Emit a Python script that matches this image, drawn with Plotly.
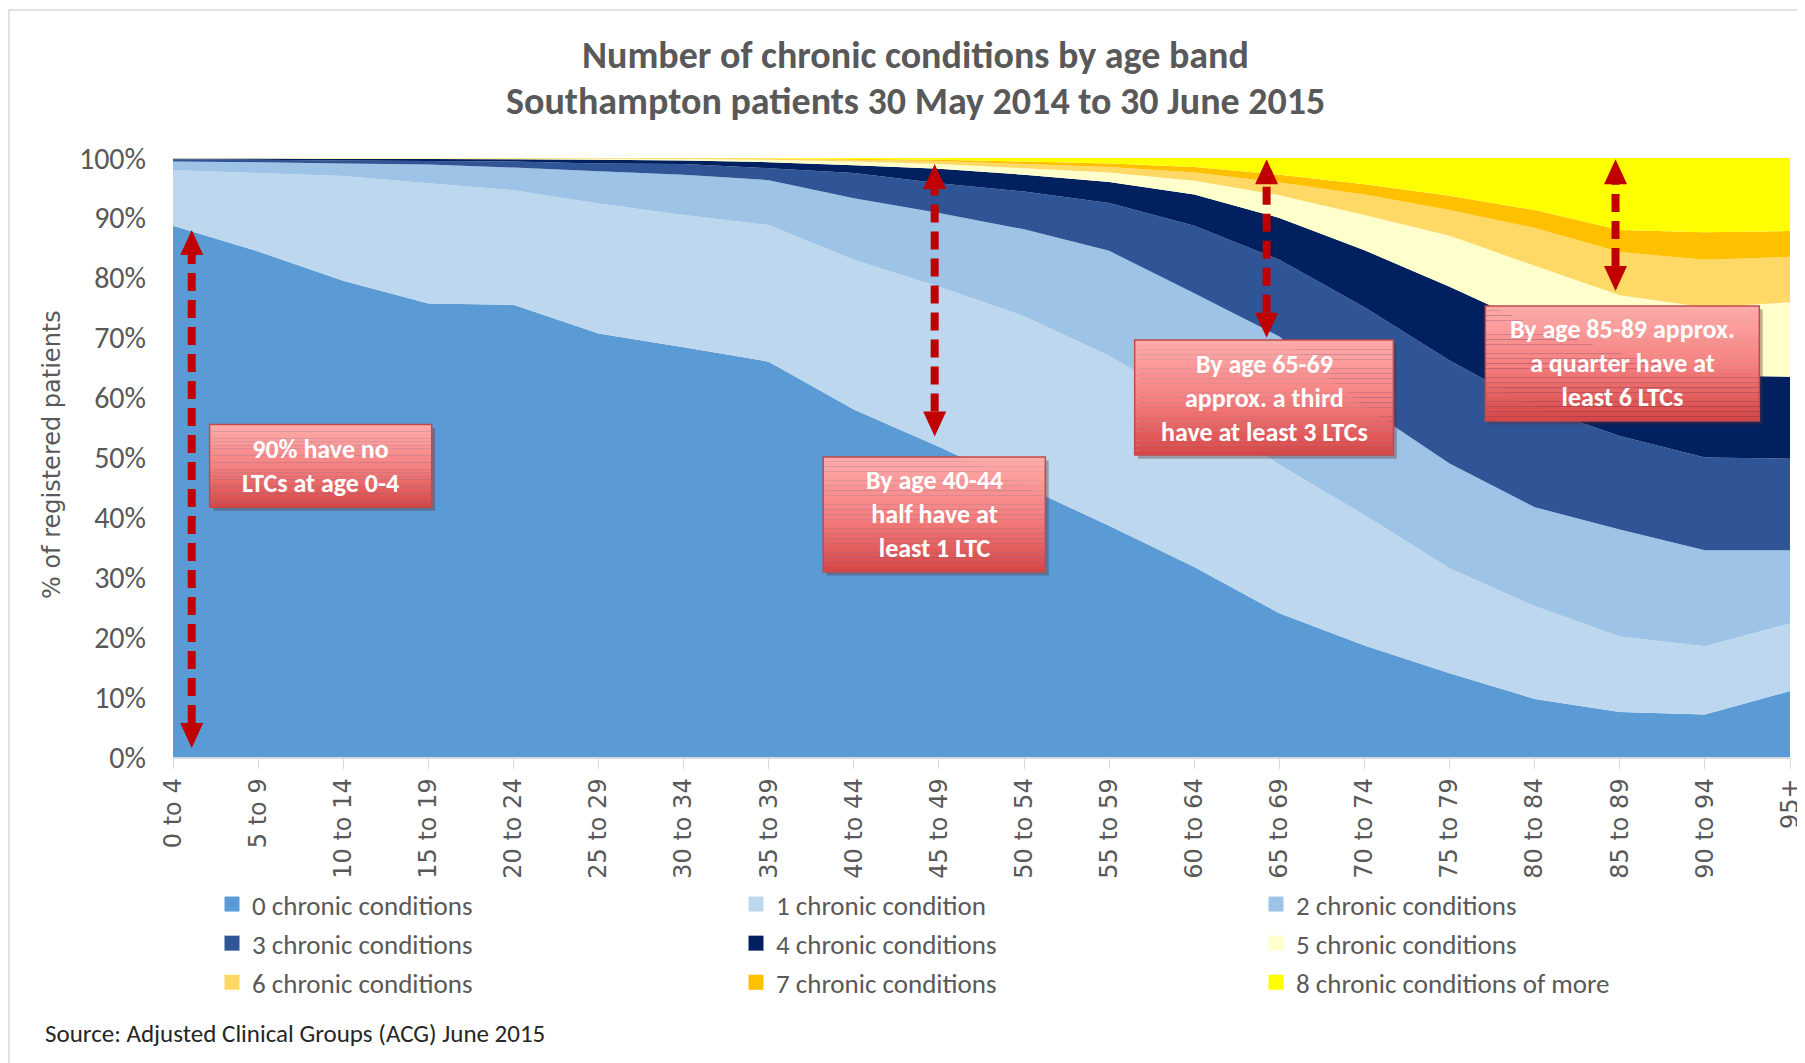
import plotly.graph_objects as go

# ---------------- data ----------------
age_bands = ["0 to 4", "5 to 9", "10 to 14", "15 to 19", "20 to 24", "25 to 29",
             "30 to 34", "35 to 39", "40 to 44", "45 to 49", "50 to 54", "55 to 59",
             "60 to 64", "65 to 69", "70 to 74", "75 to 79", "80 to 84", "85 to 89",
             "90 to 94", "95+"]

series_names = ["0 chronic conditions", "1 chronic condition", "2 chronic conditions",
                "3 chronic conditions", "4 chronic conditions", "5 chronic conditions",
                "6 chronic conditions", "7 chronic conditions", "8 chronic conditions of more"]

cc0 = [88.7, 84.4, 79.5, 75.7, 75.5, 70.7, 68.4, 66.0, 58.0, 51.8, 45.2, 38.6, 31.7, 24.0, 18.6, 14.0, 9.7, 7.5, 7.1, 11.0]
cc1 = [9.3, 13.1, 17.5, 20.1, 19.1, 21.7, 22.1, 22.8, 25.0, 26.7, 28.4, 28.4, 27.0, 24.8, 21.8, 17.5, 15.5, 12.6, 11.4, 11.3]
cc2 = [1.4, 1.8, 2.1, 3.1, 3.8, 5.4, 6.7, 7.5, 10.3, 12.3, 14.5, 17.5, 18.7, 21.4, 18.1, 17.5, 16.5, 17.9, 16.0, 12.2]
cc3 = [0.4, 0.4, 0.5, 0.6, 1.0, 1.3, 1.8, 2.0, 4.2, 5.0, 6.3, 8.0, 11.3, 12.8, 16.6, 17.2, 16.8, 15.6, 15.5, 15.3]
cc4 = [0.1, 0.2, 0.25, 0.35, 0.4, 0.6, 0.6, 1.0, 1.3, 2.4, 2.8, 3.5, 5.2, 7.0, 9.5, 12.3, 13.5, 13.9, 13.7, 13.7]
cc5 = [0.1, 0.1, 0.1, 0.1, 0.1, 0.2, 0.25, 0.4, 0.6, 0.8, 1.1, 1.6, 2.3, 3.8, 5.9, 8.5, 10.0, 9.6, 11.4, 12.4]
cc6 = [0.0, 0.0, 0.05, 0.05, 0.05, 0.05, 0.1, 0.2, 0.3, 0.5, 0.7, 0.9, 1.4, 2.1, 3.4, 4.3, 6.3, 7.2, 7.9, 7.6]
cc7 = [0.0, 0.0, 0.0, 0.0, 0.05, 0.05, 0.05, 0.05, 0.15, 0.2, 0.4, 0.6, 0.9, 1.3, 1.7, 2.4, 3.0, 3.7, 4.6, 4.3]
cc8 = [0.0, 0.0, 0.0, 0.0, 0.0, 0.0, 0.0, 0.05, 0.15, 0.3, 0.6, 0.9, 1.5, 2.8, 4.4, 6.3, 8.7, 12.0, 12.4, 12.2]

series_values = [cc0, cc1, cc2, cc3, cc4, cc5, cc6, cc7, cc8]

y_ticks = [0, 10, 20, 30, 40, 50, 60, 70, 80, 90, 100]
y_tick_labels = ["0%", "10%", "20%", "30%", "40%", "50%", "60%", "70%", "80%", "90%", "100%"]

# annotation boxes: (x0, x1, y_top, y_bottom, text)  in category-index / percent units
callouts = [
    (0.43, 3.04, 55.5, 41.7, "90% have no<br>LTCs at age 0-4"),
    (7.64, 10.25, 50.1, 30.9, "By age 40-44<br>half have at<br>least 1 LTC"),
    (11.30, 14.34, 69.6, 50.4, "By age 65-69<br>approx. a third<br>have at least 3 LTCs"),
    (15.42, 18.64, 75.3, 56.1, "By age 85-89 approx.<br>a quarter have at<br>least 6 LTCs"),
]
# double-headed arrows: (x, y_top, y_bottom)
arrows = [
    (0.22, 88.0, 1.5),
    (8.95, 99.0, 53.5),
    (12.85, 99.8, 70.0),
    (16.95, 99.8, 77.8),
]

# ---------------- style ----------------
colors = ["#5B9BD5", "#BDD7EE", "#9DC3E6", "#2F5597", "#002060",
          "#FFFFCC", "#FFD966", "#FFC000", "#FFFF00"]
OFF = 8                      # page body margin
W, H = 1805 - OFF, 1063 - OFF
ML, MT = 173 - OFF, 158 - OFF
PR, PB = 1790 - OFF, 757 - OFF
MR, MB = W - PR, H - PB
PW, PH = PR - ML, PB - MT
GRAY = "#595959"
CAL = "Calibri, Carlito, Lato, sans-serif"
VER = "Verdana, 'DejaVu Sans', sans-serif"
ARROW_RED = "#C00000"


def px_x(p):  # page x (reference pixels) -> paper
    return (p - OFF - ML) / PW


def px_y(p):  # page y (reference pixels) -> paper
    return 1 - (p - OFF - MT) / PH


fig = go.Figure()
for name, vals, col in zip(series_names, series_values, colors):
    fig.add_trace(go.Scatter(
        x=age_bands, y=vals, name=name, mode="none",
        stackgroup="one", groupnorm="percent",
        fillcolor=col, showlegend=False, hoverinfo="x+y+name"))

# legend entries (square markers) split into three column legends
legend_ids = ["legend", "legend2", "legend3"]
for i, (name, col) in enumerate(zip(series_names, colors)):
    fig.add_trace(go.Scatter(
        x=[None], y=[None], name=name, mode="markers", legendgroup=name,
        legend=legend_ids[i % 3],
        marker=dict(symbol="square", size=15, color=col), showlegend=True))

shapes = []
annotations = []


def lerp(c1, c2, t):
    return tuple(int(round(a + (b - a) * t)) for a, b in zip(c1, c2))


top_c, mid_c, bot_c = (255, 172, 172), (246, 128, 128), (214, 70, 70)
NS = 24
for (x0, x1, yt, yb, txt) in callouts:
    shapes.append(dict(type="rect", xref="x", yref="y", x0=x0 + 0.04, x1=x1 + 0.04,
                       y0=yb - 0.6, y1=yt - 0.6, line=dict(width=0),
                       fillcolor="rgba(90,40,40,0.35)", layer="above"))
    for k in range(NS):
        t = (k + 0.5) / NS
        c = lerp(top_c, mid_c, t * 2) if t < 0.5 else lerp(mid_c, bot_c, (t - 0.5) * 2)
        ya = yt - (yt - yb) * k / NS
        yb2 = yt - (yt - yb) * (k + 1) / NS
        shapes.append(dict(type="rect", xref="x", yref="y", x0=x0, x1=x1,
                           y0=yb2, y1=ya, line=dict(width=0),
                           fillcolor="rgb(%d,%d,%d)" % c, layer="above"))
    shapes.append(dict(type="rect", xref="x", yref="y", x0=x0, x1=x1, y0=yb, y1=yt,
                       line=dict(color="#C24A4A", width=1.5), fillcolor="rgba(0,0,0,0)",
                       layer="above"))
    annotations.append(dict(x=(x0 + x1) / 2, y=(yt + yb) / 2, xref="x", yref="y",
                            text=txt, showarrow=False,
                            font=dict(family=CAL, size=26, color="white", weight="bold"),
                            align="center"))

# arrows
HEAD_H, HEAD_W = 25, 23
pct_per_px = 100.0 / PH
for (x, ytop, ybot) in arrows:
    shapes.append(dict(type="line", xref="x", yref="y", x0=x, x1=x,
                       y0=ybot + HEAD_H * pct_per_px, y1=ytop - HEAD_H * pct_per_px,
                       line=dict(color=ARROW_RED, width=8, dash="18px,9px"), layer="above"))
    shapes.append(dict(type="path", xref="x", yref="y", xsizemode="pixel", ysizemode="pixel",
                       xanchor=x, yanchor=ytop,
                       path="M %.1f,%.1f L %.1f,%.1f L 0,0 Z" % (-HEAD_W / 2, -HEAD_H, HEAD_W / 2, -HEAD_H),
                       fillcolor=ARROW_RED, line=dict(width=0), layer="above"))
    shapes.append(dict(type="path", xref="x", yref="y", xsizemode="pixel", ysizemode="pixel",
                       xanchor=x, yanchor=ybot,
                       path="M %.1f,%.1f L %.1f,%.1f L 0,0 Z" % (-HEAD_W / 2, HEAD_H, HEAD_W / 2, HEAD_H),
                       fillcolor=ARROW_RED, line=dict(width=0), layer="above"))

# outer chart frame
shapes.append(dict(type="rect", xref="paper", yref="paper",
                   x0=px_x(9), x1=px_x(1830), y0=px_y(1090), y1=px_y(10),
                   line=dict(color="#D9D9D9", width=1.5), fillcolor="rgba(0,0,0,0)", layer="below"))

# titles
annotations.append(dict(xref="paper", yref="paper", x=px_x(915), y=px_y(55),
                        text="Number of chronic conditions by age band", showarrow=False,
                        xanchor="center", yanchor="middle",
                        font=dict(family=CAL, size=38, color=GRAY, weight="bold")))
annotations.append(dict(xref="paper", yref="paper", x=px_x(915), y=px_y(101),
                        text="Southampton patients 30 May 2014 to 30 June 2015", showarrow=False,
                        xanchor="center", yanchor="middle",
                        font=dict(family=CAL, size=38, color=GRAY, weight="bold")))
# y axis title
annotations.append(dict(xref="paper", yref="paper", x=px_x(52), y=px_y(455),
                        text="% of registered patients", showarrow=False, textangle=-90,
                        xanchor="center", yanchor="middle",
                        font=dict(family=VER, size=24, color=GRAY)))
# source
annotations.append(dict(xref="paper", yref="paper", x=px_x(43), y=px_y(1033),
                        text="Source: Adjusted Clinical Groups (ACG) June 2015", showarrow=False,
                        xanchor="left", yanchor="middle",
                        font=dict(family=CAL, size=25, color="#262626")))

LEG_FONT = 27
leg_common = dict(orientation="v", traceorder="grouped", tracegroupgap=1,
                  xref="container", yref="container", xanchor="left", yanchor="top",
                  y=1 - (880 - OFF) / H,
                  font=dict(family=CAL, size=LEG_FONT, color=GRAY),
                  itemsizing="trace", bgcolor="rgba(0,0,0,0)")

fig.update_layout(
    width=W, height=H,
    margin=dict(l=ML, r=MR, t=MT, b=MB, autoexpand=False),
    paper_bgcolor="white", plot_bgcolor="white",
    shapes=shapes, annotations=annotations,
    showlegend=True,
    legend=dict(x=(204 + 8 - OFF) / W, **leg_common),
    legend2=dict(x=(728 + 8 - OFF) / W, **leg_common),
    legend3=dict(x=(1248 + 8 - OFF) / W, **leg_common),
    xaxis=dict(type="category", range=[0, len(age_bands) - 1],
               tickangle=-90, ticks="outside", ticklen=10, tickcolor="#D9D9D9",
               showline=True, linecolor="#D9D9D9", linewidth=1.5,
               showgrid=False, zeroline=False,
               tickfont=dict(family=VER, size=24, color=GRAY)),
    yaxis=dict(range=[0, 100], tickvals=y_ticks, ticktext=y_tick_labels,
               showgrid=False, zeroline=False, showline=False, ticks="",
               ticklabelstandoff=26,
               tickfont=dict(family=CAL, size=30, color=GRAY)),
)

fig.write_html("out.html")
